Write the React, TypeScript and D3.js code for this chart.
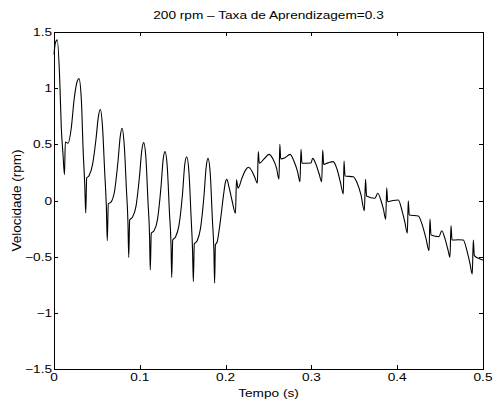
import React, { useRef, useEffect } from "react";
import * as d3 from "d3";

// tempo (s) e velocidade (rpm)
const tempo = [
  0.0, 0.0015, 0.0038, 0.0066, 0.0085, 0.0105, 0.0122, 0.0132, 0.0163, 0.0202,
  0.0233, 0.026, 0.0291, 0.0318, 0.0341, 0.0358, 0.037, 0.0381, 0.0408, 0.0449,
  0.049, 0.0516, 0.054, 0.0565, 0.0591, 0.061, 0.0621, 0.0633, 0.0664, 0.0705,
  0.0746, 0.0772, 0.0793, 0.0818, 0.0844, 0.0862, 0.0871, 0.0882, 0.0915, 0.0956,
  0.0997, 0.1024, 0.1045, 0.1071, 0.1096, 0.1114, 0.1122, 0.1134, 0.1166, 0.1206,
  0.1247, 0.1273, 0.1294, 0.132, 0.1345, 0.1364, 0.1372, 0.1384, 0.1416, 0.1457,
  0.1498, 0.1524, 0.1547, 0.1572, 0.1598, 0.1615, 0.1624, 0.1635, 0.1667, 0.1707,
  0.1748, 0.1774, 0.1795, 0.1821, 0.1846, 0.1864, 0.1872, 0.1881, 0.1902, 0.1941,
  0.1976, 0.1997, 0.2013, 0.204, 0.2075, 0.2115, 0.2127, 0.2145, 0.2191, 0.2232,
  0.2265, 0.2308, 0.2343, 0.237, 0.2381, 0.2393, 0.2448, 0.2506, 0.2552, 0.2593,
  0.2622, 0.2632, 0.2643, 0.2692, 0.2751, 0.2797, 0.2838, 0.2867, 0.2879, 0.289,
  0.2995, 0.3015, 0.3054, 0.3089, 0.312, 0.3132, 0.3143, 0.3193, 0.3255, 0.3298,
  0.3339, 0.3372, 0.338, 0.3392, 0.3488, 0.3531, 0.3578, 0.3617, 0.3631, 0.3643,
  0.3741, 0.3773, 0.3811, 0.384, 0.3866, 0.3878, 0.3889, 0.3951, 0.4013, 0.4056,
  0.4091, 0.4118, 0.4129, 0.4141, 0.4246, 0.4289, 0.4336, 0.4371, 0.4382, 0.4394,
  0.4487, 0.4519, 0.4557, 0.4592, 0.4615, 0.4627, 0.4639, 0.4709, 0.477, 0.4814,
  0.4848, 0.4875, 0.4887, 0.4899, 0.4965, 0.5,
];

const velocidade = [
  1.3, 1.4, 1.43, 1.09, 0.65, 0.41, 0.23, 0.52, 0.51, 0.65,
  0.89, 1.03, 1.085, 0.91, 0.42, 0.15, -0.11, 0.2, 0.22, 0.32,
  0.55, 0.74, 0.81, 0.66, 0.25, -0.05, -0.357, -0.03, -0.015, 0.08,
  0.35, 0.57, 0.643, 0.5, 0.1, -0.2, -0.506, -0.174, -0.147, -0.05,
  0.22, 0.45, 0.515, 0.38, -0.02, -0.32, -0.619, -0.292, -0.27, -0.17,
  0.12, 0.37, 0.435, 0.3, -0.1, -0.4, -0.684, -0.352, -0.325, -0.22,
  0.06, 0.32, 0.39, 0.26, -0.15, -0.45, -0.723, -0.387, -0.36, -0.25,
  0.04, 0.3, 0.375, 0.24, -0.17, -0.46, -0.735, -0.396, -0.367, -0.17,
  0.05, 0.16, 0.189, 0.12, 0.0, -0.114, 0.185, 0.11, 0.2, 0.27,
  0.296, 0.26, 0.2, 0.153, 0.435, 0.331, 0.37, 0.411, 0.37, 0.29,
  0.189, 0.5, 0.37, 0.38, 0.411, 0.35, 0.26, 0.167, 0.456, 0.331,
  0.334, 0.375, 0.32, 0.24, 0.167, 0.45, 0.322, 0.335, 0.346, 0.28,
  0.16, 0.058, 0.352, 0.218, 0.212, 0.16, 0.05, -0.091, 0.189, 0.04,
  0.02, 0.064, 0.0, -0.08, -0.167, 0.114, -0.01, 0.0, 0.004, -0.09,
  -0.2, -0.292, -0.002, -0.129, -0.138, -0.21, -0.34, -0.447, -0.165, -0.307,
  -0.322, -0.269, -0.34, -0.44, -0.506, -0.224, -0.352, -0.35, -0.352, -0.45,
  -0.56, -0.654, -0.352, -0.491, -0.521, -0.53,
];

const xTicks = [0, 0.1, 0.2, 0.3, 0.4, 0.5];
const yTicks = [-1.5, -1, -0.5, 0, 0.5, 1, 1.5];

const titulo = "200 rpm \u2013 Taxa de Aprendizagem=0.3";
const rotuloX = "Tempo (s)";
const rotuloY = "Velocidade (rpm)";

const W = 494;
const H = 402;
const margin = { left: 54, right: 11, top: 32, bottom: 33 };
const FONT = "'Liberation Sans', Arial, Helvetica, sans-serif";
const FS = 10.5;
const SX = 1.3; // texto mais largo que alto na figura

const fmt = (v: number) => {
  const s = String(Math.abs(v));
  return v < 0 ? "\u2212" + s : s;
};

const App = () => {
  const ref = useRef<SVGSVGElement>(null);

  useEffect(() => {
    const svg = d3.select(ref.current);
    svg.selectAll("*").remove();

    const x0 = margin.left;
    const x1 = W - margin.right;
    const y0 = margin.top;
    const y1 = H - margin.bottom;

    const x = d3.scaleLinear().domain([0, 0.5]).range([x0, x1]);
    const y = d3.scaleLinear().domain([-1.5, 1.5]).range([y1, y0]);

    svg.append("rect").attr("width", W).attr("height", H).attr("fill", "#fff");

    const data = tempo.map((t, i) => [t, velocidade[i]] as [number, number]);
    const line = d3
      .line<[number, number]>()
      .x((d) => x(d[0]))
      .y((d) => y(d[1]))
      .curve(d3.curveMonotoneX);

    svg
      .append("path")
      .datum(data)
      .attr("d", line)
      .attr("fill", "none")
      .attr("stroke", "#000")
      .attr("stroke-width", 1.1)
      .attr("stroke-linejoin", "round");

    // caixa dos eixos
    svg
      .append("rect")
      .attr("x", x0 + 0.5)
      .attr("y", y0 + 0.5)
      .attr("width", x1 - x0)
      .attr("height", y1 - y0)
      .attr("fill", "none")
      .attr("stroke", "#000")
      .attr("stroke-width", 1);

    const tl = 4;
    const g = svg.append("g").attr("stroke", "#000").attr("stroke-width", 1);
    xTicks.forEach((t) => {
      const px = Math.round(x(t)) + 0.5;
      g.append("line").attr("x1", px).attr("x2", px).attr("y1", y1).attr("y2", y1 - tl);
      g.append("line").attr("x1", px).attr("x2", px).attr("y1", y0).attr("y2", y0 + tl);
    });
    yTicks.forEach((t) => {
      const py = Math.round(y(t)) + 0.5;
      g.append("line").attr("x1", x0).attr("x2", x0 + tl).attr("y1", py).attr("y2", py);
      g.append("line").attr("x1", x1).attr("x2", x1 - tl).attr("y1", py).attr("y2", py);
    });

    const txt = (s: string, px: number, py: number, anchor: string) =>
      svg
        .append("text")
        .attr("transform", `translate(${px},${py}) scale(${SX},1)`)
        .attr("text-anchor", anchor)
        .attr("font-family", FONT)
        .attr("font-size", FS)
        .attr("fill", "#000")
        .text(s);

    xTicks.forEach((t) => txt(fmt(t), x(t), y1 + 11.5, "middle"));
    yTicks.forEach((t) => txt(fmt(t), x0 - 2, y(t) + 4, "end"));

    txt(titulo, (x0 + x1) / 2, 19, "middle");
    txt(rotuloX, (x0 + x1) / 2, 397, "middle");

    svg
      .append("text")
      .attr("transform", `translate(21,${(y0 + y1) / 2}) rotate(-90)`)
      .attr("text-anchor", "middle")
      .attr("font-family", FONT)
      .attr("font-size", 13.5)
      .attr("fill", "#000")
      .text(rotuloY);
  }, []);

  return (
    <svg
      ref={ref}
      width={W}
      height={H}
      style={{ position: "absolute", left: 0, top: 0 }}
    ></svg>
  );
};

export default App;
